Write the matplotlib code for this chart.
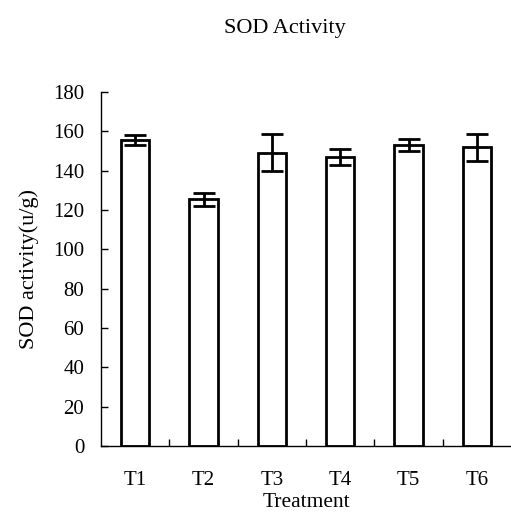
import matplotlib
matplotlib.use("Agg")
import matplotlib.pyplot as plt
import numpy as np

categories = ["T1", "T2", "T3", "T4", "T5", "T6"]
values = [155.6, 125.4, 149.1, 147.1, 153.0, 151.8]
errors = [2.5, 3.3, 9.4, 4.0, 3.0, 7.0]
yticks = [0, 20, 40, 60, 80, 100, 120, 140, 160, 180]

plt.rcParams['font.family'] = ['Liberation Serif', 'DejaVu Serif']
fs = 15

fig = plt.figure(figsize=(5.11, 5.12), dpi=100)
ax = fig.add_axes([101/511, 66/512, 1 - 101/511, 354/512])

x = np.arange(len(categories))
ax.bar(x, values, width=0.41, color='white', edgecolor='black', linewidth=2.0, zorder=2)
ax.errorbar(x, values, yerr=errors, fmt='none', ecolor='black', elinewidth=2.0,
            capsize=8, capthick=2.0, zorder=3)

ax.set_xlim(-0.5, len(categories) - 0.5)
ax.set_ylim(0, 180)
ax.set_yticks(yticks)
ax.set_yticklabels([str(v) for v in yticks], fontsize=fs)

ax.set_xticks(x)
ax.set_xticklabels(categories, fontsize=fs)
ax.set_xticks(np.arange(0.5, len(categories) - 0.5, 1), minor=True)
ax.tick_params(axis='x', which='major', length=0, pad=18)
ax.tick_params(axis='x', which='minor', direction='in', length=5, width=1)
ax.tick_params(axis='y', which='major', direction='in', length=5, width=1, pad=12)

for s in ['top', 'right']:
    ax.spines[s].set_visible(False)
for s in ['left', 'bottom']:
    ax.spines[s].set_linewidth(1.0)

ax.set_xlabel("Treatment", fontsize=15.5, labelpad=2)
ax.set_ylabel("SOD activity(u/g)", fontsize=16, labelpad=10)
fig.text(285/511, 1 - 28/512, "SOD Activity", ha='center', va='center', fontsize=16)

fig.savefig("out.png", dpi=100)
